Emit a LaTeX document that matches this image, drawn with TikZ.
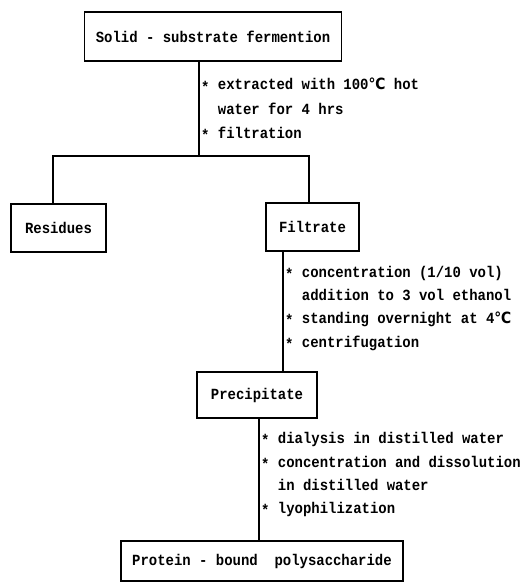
\documentclass[tikz,border=0pt]{standalone}
\usepackage{fontspec}
\newfontfamily\flowfont[FakeStretch=0.9]{Liberation Mono}
\newfontfamily\symfont[FakeStretch=0.9]{DejaVu Sans}
\newcommand\degC{{\symfont\bfseries ℃}}
\newcommand\bul{\raisebox{-0.35ex}{*}}
\tikzset{
  box/.style={draw, line width=1.3pt, inner sep=0pt, align=center,
    font=\flowfont\fontsize{15.5pt}{17pt}\selectfont\bfseries},
  note/.style={anchor=base west, inner sep=0pt,
    font=\flowfont\fontsize{15.5pt}{17pt}\selectfont\bfseries},
  link/.style={line width=1.3pt}
}
\begin{document}
\begin{tikzpicture}[x=1pt,y=-1pt]
\useasboundingbox (0,0) rectangle (529,583);
% boxes
\node[box, minimum width=257pt, minimum height=49pt] (top) at (213,36.5) {Solid - substrate fermention};
\node[box, minimum width=95pt, minimum height=48pt] (res) at (58.5,228) {Residues};
\node[box, minimum width=93pt, minimum height=48pt] (fil) at (312.5,227) {Filtrate};
\node[box, minimum width=120pt, minimum height=46pt] (pre) at (257,395) {Precipitate};
\node[box, minimum width=282pt, minimum height=40pt] (pro) at (262,561) {Protein - bound\ \ polysaccharide};
% junctions
\coordinate (j) at (199,156);
\coordinate (jl) at (53,156);
\coordinate (jr) at (309,156);
\coordinate (k) at (283,300);
\coordinate (m) at (259,480);
% connectors
\draw[link] (top.south -| j) -- (j);
\draw[link] (res.north -| jl) -- (jl) -- (jr) -- (fil.north -| jr);
\draw[link] (fil.south -| k) -- (pre.north -| k);
\draw[link] (pre.south -| m) -- (pro.north -| m);
% notes 1
\node[note] (n1a) at (201,90) {\bul~extracted with 100\degC{} hot};
\node[note] (n1b) at (201,114.5) {\hphantom{*~}water for 4 hrs};
\node[note] (n1c) at (201,138) {\bul~filtration};
% notes 2
\node[note] (n2a) at (285,277) {\bul~concentration (1/10 vol)};
\node[note] (n2b) at (285,300) {\hphantom{*~}addition to 3 vol ethanol};
\node[note] (n2c) at (285,323) {\bul~standing overnight at 4\degC};
\node[note] (n2d) at (285,347) {\bul~centrifugation};
% notes 3
\node[note] (n3a) at (261,443) {\bul~dialysis in distilled water};
\node[note] (n3b) at (261,467) {\bul~concentration and dissolution};
\node[note] (n3c) at (261,490) {\hphantom{*~}in distilled water};
\node[note] (n3d) at (261,513) {\bul~lyophilization};
\end{tikzpicture}
\end{document}
